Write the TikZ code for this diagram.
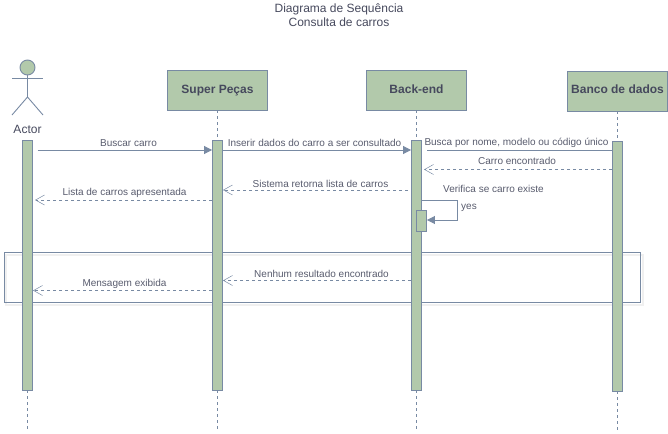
\documentclass[tikz,border=0pt]{standalone}
\usepackage{fontspec}
\setmainfont{Liberation Sans}
\usetikzlibrary{arrows.meta,positioning}
\definecolor{barfill}{HTML}{B2C9AB}
\definecolor{edgeblue}{HTML}{788AA3}
\definecolor{inkgray}{HTML}{46495D}
\tikzset{
seq/.style={x=1pt,y=-1pt,line width=0.9pt,draw=edgeblue,text=inkgray,
font=\fontsize{12}{14.4}\selectfont},
party/.style={rectangle,draw=edgeblue,fill=barfill,minimum width=100pt,
minimum height=40pt,inner sep=0pt,text height=9pt,text depth=3pt,
font=\fontsize{12}{14.4}\selectfont\bfseries},
activation/.style={rectangle,draw=edgeblue,fill=barfill,minimum width=10pt,inner sep=0pt},
lifeline/.style={draw=edgeblue,dashed,dash pattern=on 3pt off 3pt},
call/.style={draw=edgeblue,-{Triangle[length=8pt,width=8pt]}},
reply/.style={draw=edgeblue,dash pattern=on 3pt off 3pt,
-{Straight Barb[length=9pt,width=10pt,line width=0.5pt]}},
msg/.style={font=\fontsize{10}{12}\selectfont,inner sep=0pt,text=inkgray!90},
frameglow/.style={draw=black,opacity=0.06,line width=2pt},
}
\begin{document}
\begin{tikzpicture}[seq]
\useasboundingbox (0,0) rectangle (668,433);
\node[align=center,inner sep=0pt] (title) at (339,15) {Diagrama de Sequência\\Consulta de carros};

% frame behind the bars
\draw[frameglow] (6,254.5) rectangle (642.5,305);
\node[draw=edgeblue,rectangle,inner sep=0pt,minimum width=636pt,minimum height=50pt] (alt) at (322.5,277.5) {};

% parties
\node[party] (super) at (217.5,90) {Super Peças};
\node[party] (back) [right = 98.1pt of super] {Back-end};
\node[party] (banco) at (617.5,91) {Banco de dados};

% actor
\node[circle,draw=edgeblue,fill=barfill,minimum size=15pt,inner sep=0pt] (head) at (27.5,67.5) {};
\coordinate (hip) at (27.5,97);
\coordinate (armL) at (12,78.5);
\coordinate (armR) at (43,78.5);
\coordinate (legL) at (12,115);
\coordinate (legR) at (43,115);
\draw (head) -- (hip);
\draw (armL) -- (armR);
\draw (legL) -- (hip) -- (legR);
\node (actor) at (27.5,129) [inner sep=0pt] {Actor};

% activation bars
\node[activation,minimum height=250pt] (actorbar) at (27.5,265) {};
\node[activation,minimum height=250pt] (superbar) at (217.5,265) {};
\node[activation,minimum height=250pt] (backbar) at (416.5,265) {};
\node[activation,minimum height=250pt] (bancobar) at (617.5,266) {};
\node[activation,minimum height=21.5pt] (selfbar) at (421.5,220.75) {};

% lifelines
\coordinate (actorend) at (27.5,430);
\coordinate (superend) at (217.5,430);
\coordinate (backend) at (416.5,430);
\coordinate (bancoend) at (617.5,430);
\draw[lifeline] (actorbar.south) -- (actorend);
\draw[lifeline] (super.south) -- (superbar.north);
\draw[lifeline] (superbar.south) -- (superend);
\draw[lifeline] (back.south) -- (backbar.north);
\draw[lifeline] (backbar.south) -- (backend);
\draw[lifeline] (banco.south) -- (bancobar.north);
\draw[lifeline] (bancobar.south) -- (bancoend);

% messages
\coordinate (buscarstart) at (37.5,150);
\draw[call] (buscarstart) -- (superbar.west |- buscarstart);
\node[msg] (buscar) at (128.5,143) {Buscar carro};

\coordinate (inserirstart) at (222.5,150);
\draw[call] (inserirstart) -- (backbar.west |- inserirstart);
\node[msg] (inserir) at (314.5,143) {Inserir dados do carro a ser consultado};

\coordinate (buscaend) at (427,150.5);
\draw (bancobar.west |- buscaend) -- (buscaend);
\node[msg] (busca) at (516.5,142.5) {Busca por nome, modelo ou código único};

\coordinate (carroend) at (424,169.5);
\draw[reply] (bancobar.west |- carroend) -- (carroend);
\node[msg] (carro) at (517,161) {Carro encontrado};

\node[msg] (verifica) at (493.5,189) {Verifica se carro existe};
\coordinate (selfa) at (421.5,200);
\coordinate (selfb) at (457.5,200);
\coordinate (selfc) at (457.5,220);
\draw[call] (selfa) -- (selfb) -- (selfc) -- (selfbar.east |- selfc);
\node[msg] (yes) at (469,207.5) {yes};

\coordinate (sistemastart) at (408,190);
\draw[reply] (sistemastart) -- (superbar.east |- sistemastart);
\node[msg] (sistema) at (320.5,183.5) {Sistema retorna lista de carros};

\coordinate (listastart) at (212,200);
\coordinate (listaend) at (35,200);
\draw[reply] (listastart) -- (listaend);
\node[msg] (lista) at (124.5,192.5) {Lista de carros apresentada};

\coordinate (nenhumstart) at (411,280.5);
\coordinate (nenhumend) at (223,280.5);
\draw[reply] (nenhumstart) -- (nenhumend);
\node[msg] (nenhum) at (321.5,273.5) {Nenhum resultado encontrado};

\coordinate (mensagemstart) at (212,290.5);
\coordinate (mensagemend) at (33,290.5);
\draw[reply] (mensagemstart) -- (mensagemend);
\node[msg] (mensagem) at (124.5,283.5) {Mensagem exibida};
\end{tikzpicture}
\end{document}
